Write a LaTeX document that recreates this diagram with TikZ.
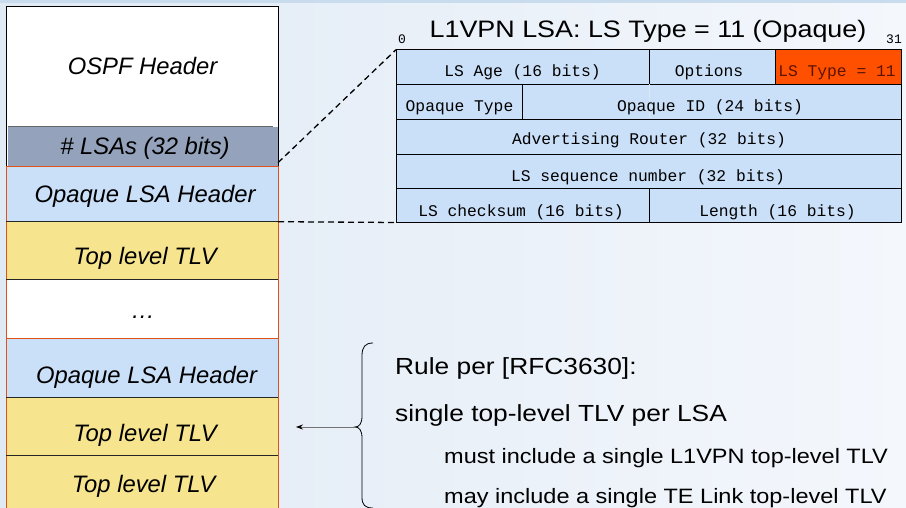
\documentclass[tikz,border=0pt]{standalone}
\usepackage{fontspec}
\setmainfont{Liberation Sans}
\newfontfamily\widesans[FakeStretch=1.13]{Liberation Sans}
\newfontfamily\monofont{Liberation Mono}
\usetikzlibrary{arrows.meta}
\definecolor{bgL}{RGB}{224,234,245}
\definecolor{bgR}{RGB}{244,247,252}
\definecolor{topband}{RGB}{200,220,238}
\definecolor{grayband}{RGB}{148,162,187}
\definecolor{lblue}{RGB}{202,223,248}
\definecolor{lyellow}{RGB}{246,228,142}
\definecolor{oline}{RGB}{226,82,20}
\definecolor{ofill}{RGB}{255,80,0}
\definecolor{faint}{RGB}{218,231,248}
\definecolor{typetext}{RGB}{90,20,0}
\begin{document}
\begin{tikzpicture}[x=1pt,y=-1pt,
  box/.style={anchor=north west, inner sep=0, outer sep=0, minimum width=272pt, line width=1pt},
  lbl/.style={anchor=base, inner sep=0, font=\fontsize{23.8}{28}\selectfont\itshape},
  cell/.style={anchor=north west, inner sep=0, outer sep=0, draw=black, line width=0.8pt, fill=lblue},
  ctext/.style={anchor=base, inner sep=0, font=\monofont\fontsize{16.3}{19}\selectfont},
  bitnum/.style={anchor=base, inner sep=0, font=\monofont\fontsize{13}{15}\selectfont},
  rulet/.style={anchor=base west, inner sep=0, font=\widesans\fontsize{23.3}{28}\selectfont},
  subt/.style={anchor=base west, inner sep=0, font=\widesans\fontsize{20.8}{25}\selectfont},
  sepline/.style={line width=1pt, draw=black!85},
  dashline/.style={dash pattern=on 6pt off 4pt, line width=1.3pt}
]
\shade[left color=bgL, right color=bgR] (0,0) rectangle (906,508);
\useasboundingbox (0,0) rectangle (906,508);
\fill[topband] (0,0) rectangle (906,3);

% left column
\node[box, minimum height=160pt, fill=white, draw=black] (ospf) at (6,6.7) {};
\node[box, minimum width=270pt, minimum height=39.7pt, fill=grayband] (lsas) at (8,127) {};
\draw[sepline, draw=black!60] (lsas.north west) -- ([xshift=-5pt]lsas.north east);
\node[box, minimum height=55pt, fill=lblue, draw=oline] (opq1) at (6,166.7) {};
\node[box, minimum height=57.6pt, fill=lyellow, draw=oline] (tlv1) at (6,221.7) {};
\node[box, minimum height=59pt, fill=white, draw=oline] (dots) at (6,279.3) {};
\node[box, minimum height=59pt, fill=lblue, draw=oline] (opq2) at (6,338.3) {};
\node[box, minimum height=57.7pt, fill=lyellow, draw=oline] (tlv2) at (6,397.3) {};
\node[box, minimum height=65pt, fill=lyellow, draw=oline] (tlv3) at (6,455) {};
\draw[sepline] (opq1.south west) -- (opq1.south east);
\draw[sepline] (tlv1.south west) -- (tlv1.south east);
\draw[sepline] (opq2.south west) -- (opq2.south east);
\draw[sepline] (tlv2.south west) -- (tlv2.south east);

\node[lbl] (t1) at (142.5,75) {OSPF Header};
\node[lbl] (t2) at (145,155) {\# LSAs (32 bits)};
\node[lbl] (t3) at (145,202.5) {Opaque LSA Header};
\node[lbl] (t4) at (145,265) {Top level TLV};
\node[lbl] (t5) at (143,318) {…};
\node[lbl] (t6) at (146.5,383) {Opaque LSA Header};
\node[lbl] (t7) at (145,441) {Top level TLV};
\node[lbl] (t8) at (143.5,492) {Top level TLV};

% right table
\node[anchor=base, inner sep=0, font=\widesans\fontsize{23.8}{28}\selectfont] (title) at (648,37.6) {L1VPN LSA: LS Type = 11 (Opaque)};
\node[bitnum] (b0) at (402,44) {0};
\node[bitnum] (b31) at (894,44) {31};

\node[cell, minimum width=253.5pt, minimum height=34.3pt] (age) at (396,49.7) {};
\node[cell, minimum width=125.5pt, minimum height=34.3pt] (opt) at (649.5,49.7) {};
\node[cell, fill=ofill, minimum width=126pt, minimum height=34.3pt] (lstype) at (775,49.7) {};
\node[cell, minimum width=126pt, minimum height=35pt] (otype) at (396,84) {};
\node[cell, minimum width=379pt, minimum height=35pt] (oid) at (522,84) {};
\draw[line width=0.8pt, faint] (649.5,84.5) -- (649.5,118.5);
\node[cell, minimum width=505pt, minimum height=35pt] (adv) at (396,119) {};
\node[cell, minimum width=505pt, minimum height=34.6pt] (seq) at (396,154) {};
\node[cell, minimum width=253.5pt, minimum height=33.9pt] (chk) at (396,188.6) {};
\node[cell, minimum width=251.5pt, minimum height=33.9pt] (len) at (649.5,188.6) {};

\node[ctext] (tage) at (522.5,76.5) {LS Age (16 bits)};
\node[ctext] (topt) at (709,76.5) {Options};
\node[ctext, text=typetext] (ttype) at (837,76.5) {LS Type = 11};
\node[ctext] (totype) at (459.5,111.7) {Opaque Type};
\node[ctext] (toid) at (710,111.7) {Opaque ID (24 bits)};
\node[ctext] (tadv) at (649,144.5) {Advertising Router (32 bits)};
\node[ctext] (tseq) at (648,181.2) {LS sequence number (32 bits)};
\node[ctext] (tchk) at (521,216.4) {LS checksum (16 bits)};
\node[ctext] (tlen) at (777.5,216.4) {Length (16 bits)};

% dashed zoom lines
\draw[dashline] ([yshift=4pt]lsas.south east) -- (age.north west);
\draw[dashline] (opq1.south east) -- (chk.south west);

% brace and arrow
\coordinate (btip) at (355,427);
\coordinate (aend) at (296,427);
\draw[line width=0.8pt] (373,343) .. controls (365,343) and (362,347) .. (362,356)
  -- (362,416) .. controls (362,424) and (359,427) .. (btip)
  .. controls (359,427) and (362,430) .. (362,438)
  -- (362,497) .. controls (362,505) and (365,508) .. (373,508);
\draw[draw=black!55, line width=0.7pt, -{Stealth[length=7pt,width=5pt,color=black]}] (btip) -- (aend);

\node[rulet] (r1) at (395,374) {Rule per [RFC3630]:};
\node[rulet] (r2) at (395,421) {single top-level TLV per LSA};
\node[subt] (r3) at (444,463) {must include a single L1VPN top-level TLV};
\node[subt] (r4) at (444,503) {may include a single TE Link top-level TLV};
\end{tikzpicture}
\end{document}
